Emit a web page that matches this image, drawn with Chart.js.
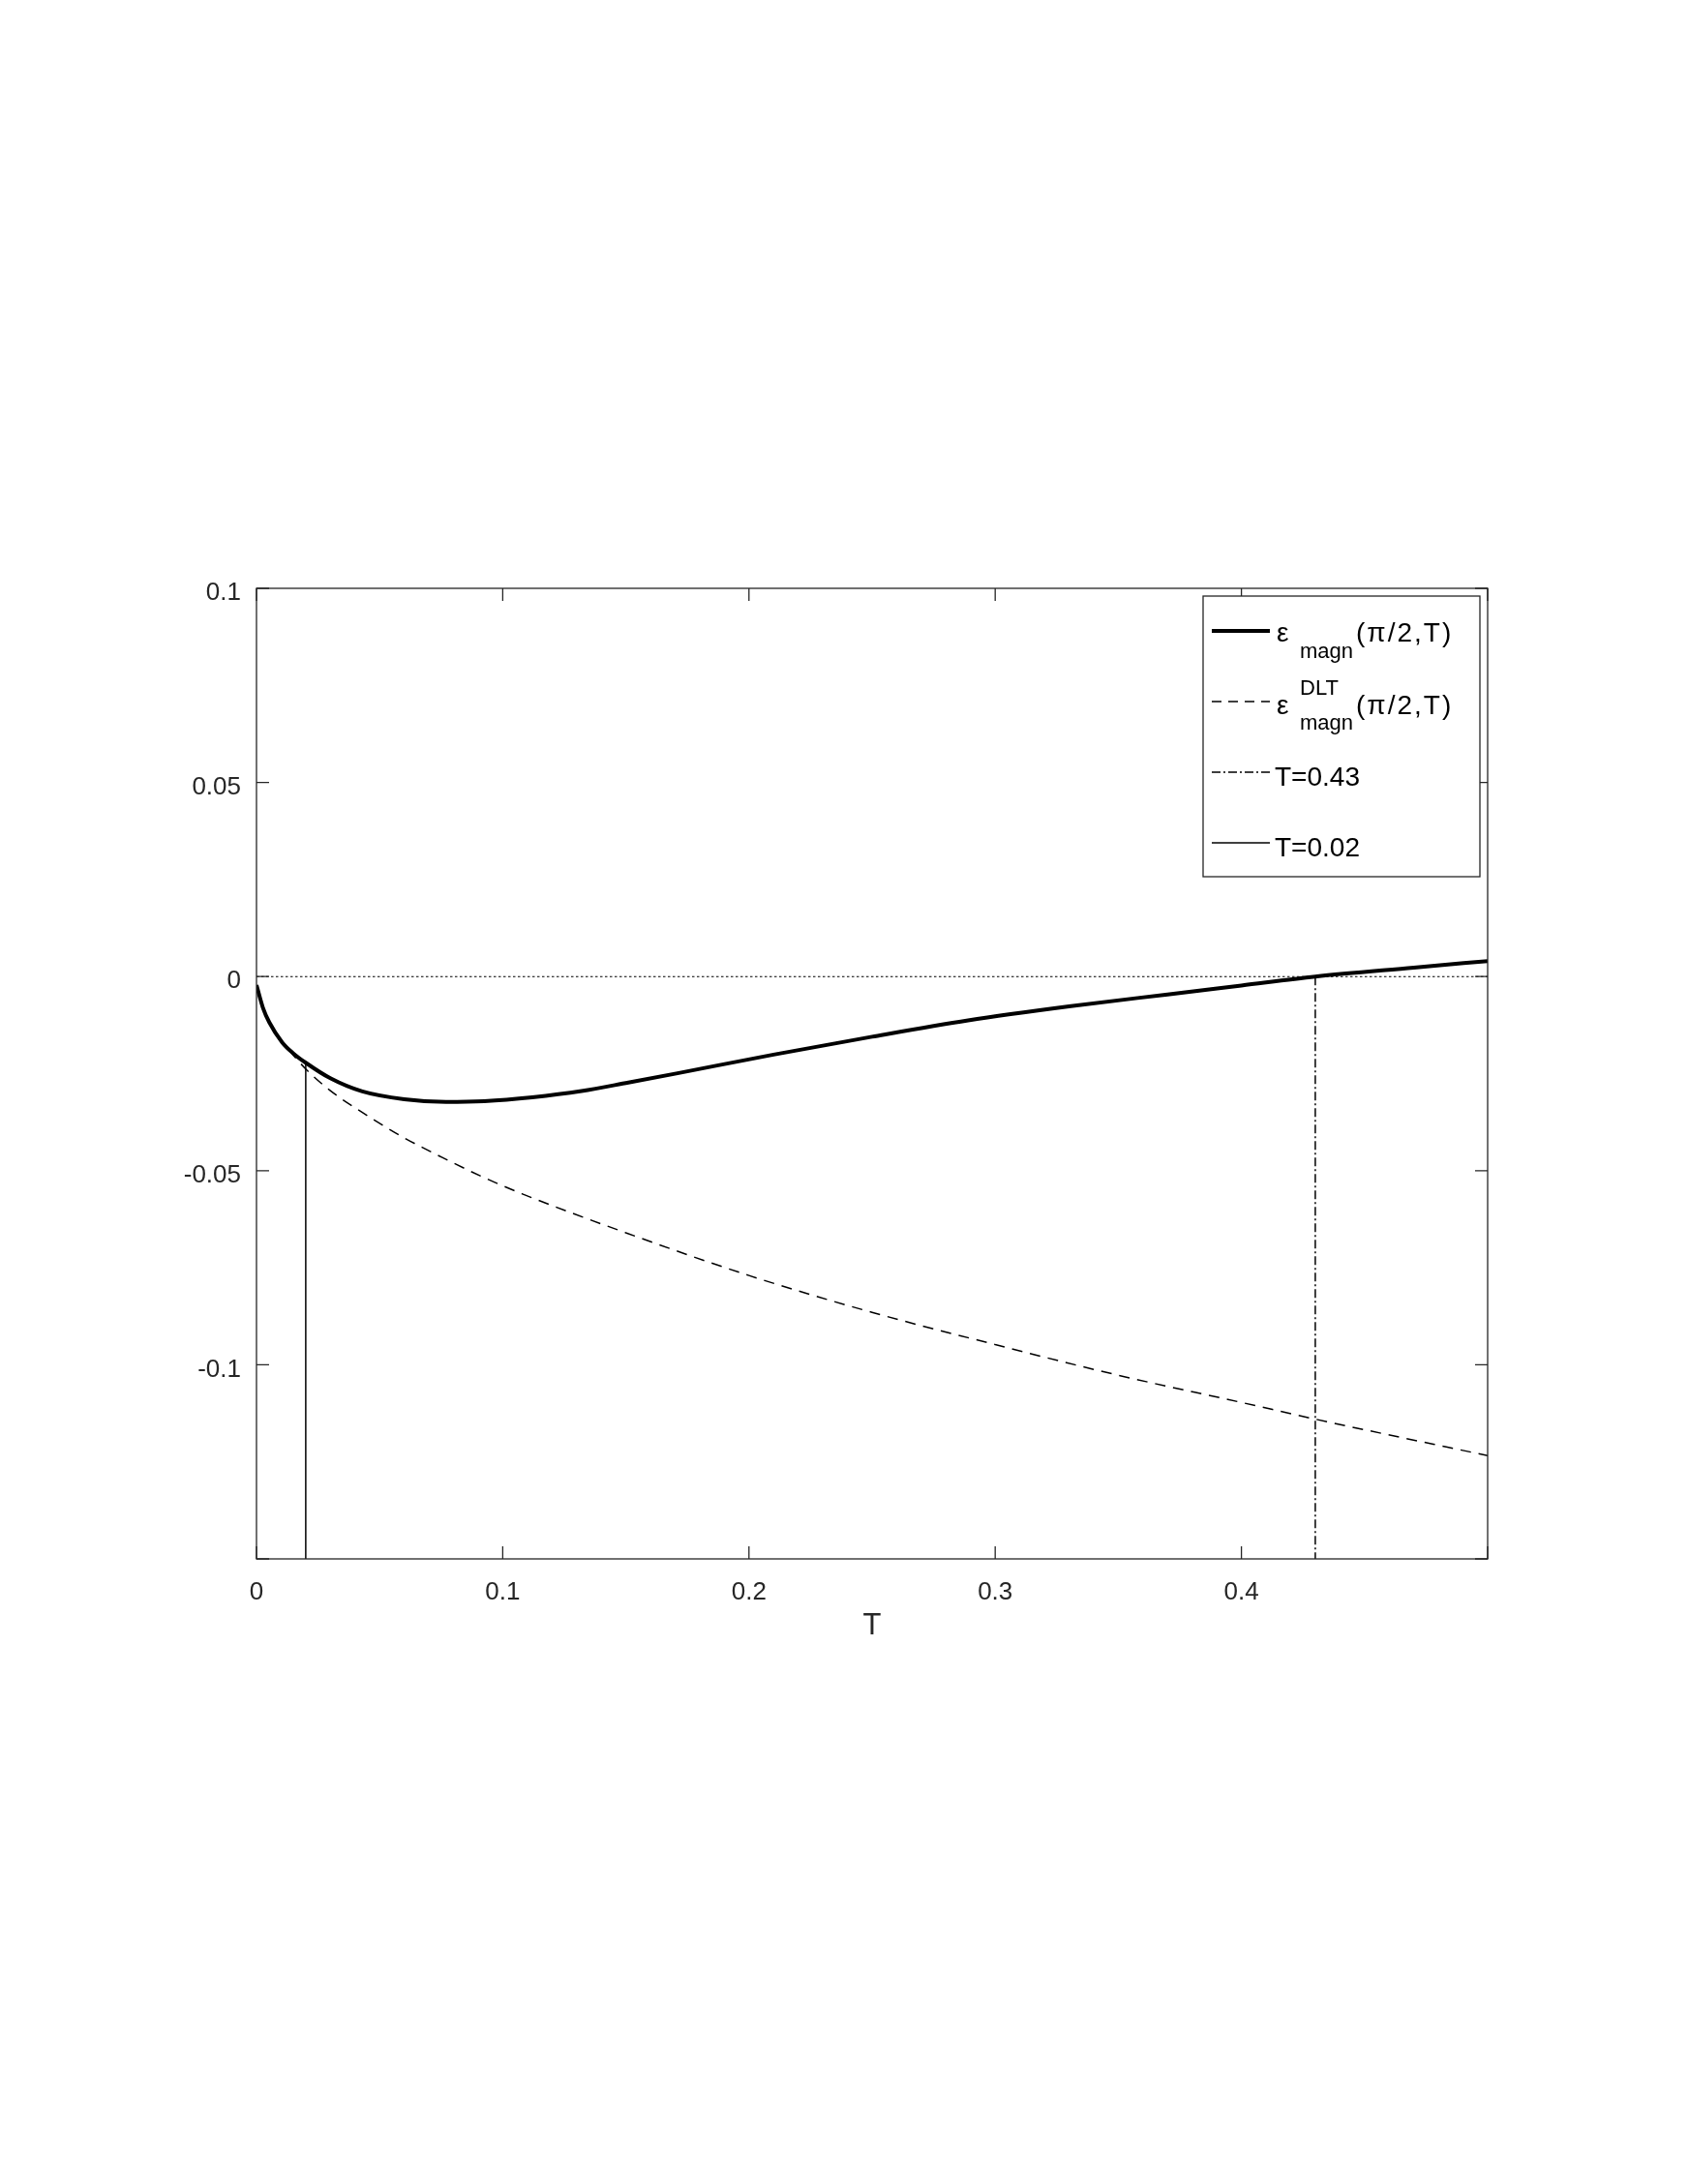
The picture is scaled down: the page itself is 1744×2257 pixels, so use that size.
<!DOCTYPE html>
<html>
<head>
<meta charset="utf-8">
<script src="https://cdn.jsdelivr.net/npm/chart.js@4.4.1/dist/chart.umd.min.js"></script>
<style>
  html, body { margin: 0; padding: 0; background: #fff; }
  canvas { display: block; }
</style>
</head>
<body>
<canvas id="grafico" width="1744" height="2257"></canvas>
<script>
// valores
const tMagn = [0, 0.0026, 0.0052, 0.0105, 0.015, 0.02, 0.03, 0.043, 0.06, 0.077, 0.0925, 0.112, 0.132, 0.151, 0.171, 0.21, 0.25, 0.289, 0.33, 0.37, 0.40, 0.43, 0.47, 0.5];
const epsMagn = [-0.0022, -0.0080, -0.0118, -0.0170, -0.0198, -0.0222, -0.0262, -0.0296, -0.0316, -0.0323, -0.0321, -0.0311, -0.0295, -0.0273, -0.0249, -0.0201, -0.0155, -0.0113, -0.0077, -0.0046, -0.0023, 0.0, 0.0023, 0.0040];

const tDlt = [0, 0.0026, 0.0052, 0.0105, 0.015, 0.02, 0.03, 0.043, 0.059, 0.078, 0.0925, 0.108, 0.15, 0.2, 0.25, 0.3, 0.35, 0.4, 0.43, 0.5];
const epsDlt = [-0.0022, -0.0080, -0.0118, -0.0170, -0.0203, -0.0238, -0.0294, -0.0350, -0.0412, -0.0474, -0.0518, -0.0560, -0.0660, -0.0770, -0.0865, -0.0948, -0.1027, -0.1097, -0.1140, -0.1234];

const tCruza = 0.43;
const tBaixo = 0.02;
const xTicks = [0, 0.1, 0.2, 0.3, 0.4, 0.5];
const yTicks = [-0.15, -0.1, -0.05, 0, 0.05, 0.1];
const xMin = 0, xMax = 0.5, yMin = -0.15, yMax = 0.1;

const cor = '#262626';
const fonte = '"Liberation Sans", Arial, Helvetica, sans-serif';

const pares = (xs, ys) => xs.map((x, i) => ({ x: x, y: ys[i] }));

// molde e ticks para dentro, estilo matlab
const moldura = {
  id: 'moldura',
  afterDatasetsDraw(chart) {
    const { ctx, chartArea: a, scales: { x, y } } = chart;
    ctx.save();
    ctx.strokeStyle = cor;
    ctx.lineWidth = 1.3;
    ctx.strokeRect(a.left, a.top, a.right - a.left, a.bottom - a.top);
    ctx.beginPath();
    xTicks.forEach(v => {
      const px = x.getPixelForValue(v);
      ctx.moveTo(px, a.bottom); ctx.lineTo(px, a.bottom - 13);
      ctx.moveTo(px, a.top); ctx.lineTo(px, a.top + 13);
    });
    yTicks.forEach(v => {
      const py = y.getPixelForValue(v);
      ctx.moveTo(a.left, py); ctx.lineTo(a.left + 13, py);
      ctx.moveTo(a.right, py); ctx.lineTo(a.right - 13, py);
    });
    ctx.stroke();
    ctx.restore();
  }
};

const legenda = {
  id: 'legenda',
  afterDraw(chart) {
    const { ctx, chartArea: a } = chart;
    const w = 286, h = 290;
    const L = a.right - 8 - w, T = a.top + 8;
    ctx.save();
    ctx.fillStyle = '#fff';
    ctx.fillRect(L, T, w, h);
    ctx.strokeStyle = cor;
    ctx.lineWidth = 1.3;
    ctx.strokeRect(L, T, w, h);

    const linhas = [
      { dash: [], lw: 4 },
      { dash: [10, 7], lw: 1.5 },
      { dash: [9, 3, 2, 3], lw: 1.5 },
      { dash: [], lw: 1.5 }
    ];
    linhas.forEach((s, i) => {
      const yy = T + 36 + i * 73;
      ctx.beginPath();
      ctx.strokeStyle = '#000';
      ctx.lineWidth = s.lw;
      ctx.setLineDash(s.dash);
      ctx.moveTo(L + 9, yy);
      ctx.lineTo(L + 69, yy);
      ctx.stroke();
    });
    ctx.setLineDash([]);

    ctx.fillStyle = '#000';
    ctx.textAlign = 'left';
    ctx.textBaseline = 'alphabetic';
    const principal = '28px ' + fonte;
    const pequena = '22px ' + fonte;
    const argumento = (texto, x, y) => {
      ctx.font = principal;
      if ('letterSpacing' in ctx) ctx.letterSpacing = '2px';
      ctx.fillText(texto, x, y);
      if ('letterSpacing' in ctx) ctx.letterSpacing = '0px';
    };

    let yy = T + 36;
    ctx.font = principal;
    ctx.fillText('ε', L + 76, yy + 11);
    argumento('(π/2,T)', L + 158, yy + 11);
    ctx.font = pequena;
    ctx.fillText('magn', L + 100, yy + 28);

    yy = T + 36 + 73;
    ctx.font = principal;
    ctx.fillText('ε', L + 76, yy + 13);
    argumento('(π/2,T)', L + 158, yy + 13);
    ctx.font = pequena;
    ctx.fillText('DLT', L + 100, yy - 7);
    ctx.fillText('magn', L + 100, yy + 29);

    ctx.font = principal;
    ctx.fillText('T=0.43', L + 74, T + 36 + 2 * 73 + 14);
    ctx.fillText('T=0.02', L + 74, T + 36 + 3 * 73 + 14);
    ctx.restore();
  }
};

const rotulo = v => (Math.abs(v) < 1e-9 ? '0' : String(Math.round(v * 100) / 100));

new Chart(document.getElementById('grafico'), {
  type: 'scatter',
  data: {
    datasets: [
      {
        label: 'eps magn',
        data: pares(tMagn, epsMagn),
        showLine: true,
        borderColor: '#000',
        borderWidth: 4,
        pointRadius: 0,
        cubicInterpolationMode: 'monotone'
      },
      {
        label: 'eps DLT',
        data: pares(tDlt, epsDlt),
        showLine: true,
        borderColor: '#000',
        borderWidth: 1.5,
        borderDash: [11, 8],
        pointRadius: 0,
        cubicInterpolationMode: 'monotone'
      },
      {
        label: 'T=0.43',
        data: [{ x: tCruza, y: 0 }, { x: tCruza, y: yMin }],
        showLine: true,
        borderColor: '#000',
        borderWidth: 1.5,
        borderDash: [9, 3, 2, 3],
        pointRadius: 0
      },
      {
        label: 'T=0.02',
        data: [{ x: tBaixo, y: epsMagn[tMagn.indexOf(tBaixo)] }, { x: tBaixo, y: yMin }],
        showLine: true,
        borderColor: '#000',
        borderWidth: 1.5,
        pointRadius: 0
      },
      {
        label: 'zero',
        data: [{ x: xMin, y: 0 }, { x: xMax, y: 0 }],
        showLine: true,
        borderColor: '#000',
        borderWidth: 1.1,
        borderDash: [2.5, 2.5],
        pointRadius: 0
      }
    ]
  },
  options: {
    responsive: false,
    animation: false,
    devicePixelRatio: 1,
    layout: { padding: { top: 608, right: 207, bottom: 556, left: 145 } },
    plugins: {
      legend: { display: false },
      tooltip: { enabled: false }
    },
    scales: {
      x: {
        type: 'linear',
        min: xMin,
        max: xMax,
        afterBuildTicks: s => { s.ticks = xTicks.map(v => ({ value: v })); },
        afterFit: s => { s.height = 90; },
        grid: { display: false, drawTicks: false },
        border: { display: false },
        ticks: {
          color: cor,
          padding: 19,
          maxRotation: 0,
          font: { family: fonte, size: 26 },
          callback: v => (v === xMax ? '' : rotulo(v))
        },
        title: {
          display: true,
          text: 'T',
          color: cor,
          padding: { top: 0, bottom: 2 },
          font: { family: fonte, size: 31 }
        }
      },
      y: {
        type: 'linear',
        min: yMin,
        max: yMax,
        afterBuildTicks: s => { s.ticks = yTicks.map(v => ({ value: v })); },
        afterFit: s => { s.width = 120; },
        grid: { display: false, drawTicks: false },
        border: { display: false },
        ticks: {
          color: cor,
          padding: 16,
          labelOffset: 5,
          font: { family: fonte, size: 26 },
          callback: v => (v === yMin ? '' : rotulo(v))
        }
      }
    }
  },
  plugins: [moldura, legenda]
});
</script>
</body>
</html>
